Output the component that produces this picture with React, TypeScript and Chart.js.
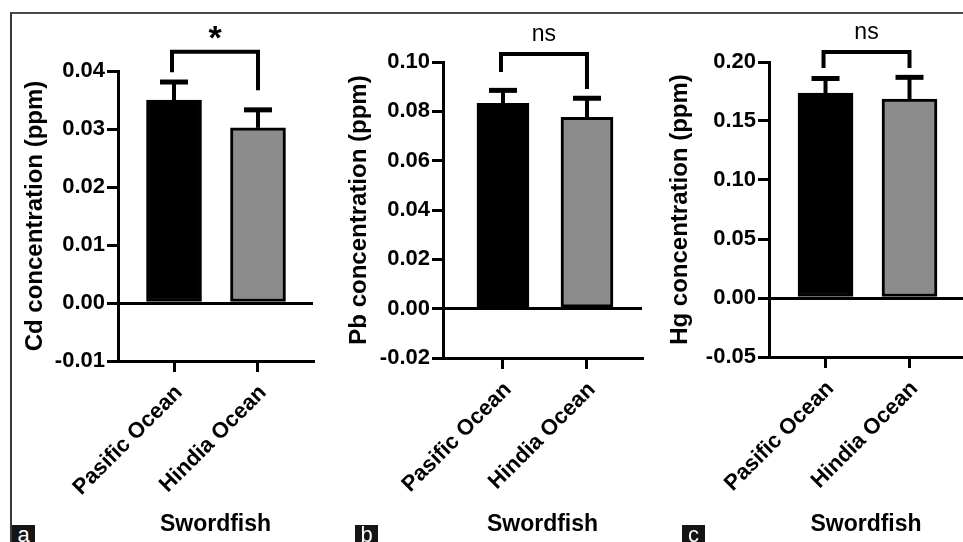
import React, { useEffect, useRef } from "react";
import { Chart, registerables } from "chart.js";

Chart.register(...registerables);

const FONT = "'Liberation Sans', Arial, sans-serif";

const categories = ["Pasific Ocean", "Hindia Ocean"];
const barColors = ["#000000", "#8c8c8c"];

const cdMeans = [0.035, 0.0302];
const cdErrors = [0.0031, 0.0031];
const pbMeans = [0.0832, 0.0776];
const pbErrors = [0.0053, 0.0077];
const hgMeans = [0.1737, 0.1686];
const hgErrors = [0.0123, 0.0184];

const cdTicks = [-0.01, 0, 0.01, 0.02, 0.03, 0.04];
const pbTicks = [-0.02, 0, 0.02, 0.04, 0.06, 0.08, 0.1];
const hgTicks = [-0.05, 0, 0.05, 0.1, 0.15, 0.2];

const yTitles = ["Cd concentration (ppm)", "Pb concentration (ppm)", "Hg concentration (ppm)"];
const xTitle = "Swordfish";
const sigLabels = ["*", "ns", "ns"];
// bracket: [top, left leg end, right leg end] in data units
const cdBracket = [0.0433, 0.0398, 0.0367];
const pbBracket = [0.1032, 0.0959, 0.0891];
const hgBracket = [0.2085, 0.1949, 0.1949];
const panelLetters = ["a", "b", "c"];

type Panel = {
  means: number[];
  errors: number[];
  ticks: number[];
  title: string;
  sig: string;
  bracket: number[];
  padLeft: number;
  padRight: number;
  padTop: number;
  axisX: number;
  bottom: number;
  xMin: number;
  xMax: number;
  barW: number;
};

const panels: Panel[] = [
  { means: cdMeans, errors: cdErrors, ticks: cdTicks, title: yTitles[0], sig: sigLabels[0], bracket: cdBracket,
    padLeft: 0, padRight: 650, padTop: 71, axisX: 118, bottom: 361, xMin: 0.333, xMax: 2.655, barW: 55 },
  { means: pbMeans, errors: pbErrors, ticks: pbTicks, title: yTitles[1], sig: sigLabels[1], bracket: pbBracket,
    padLeft: 324, padRight: 321, padTop: 62, axisX: 443, bottom: 358, xMin: 0.286, xMax: 2.655, barW: 52 },
  { means: hgMeans, errors: hgErrors, ticks: hgTicks, title: yTitles[2], sig: sigLabels[2], bracket: hgBracket,
    padLeft: 645, padRight: 0, padTop: 62, axisX: 769, bottom: 357, xMin: 0.327, xMax: 2.637, barW: 55 },
];

function makeOverlay(p: Panel) {
  return {
    id: "overlay",
    afterDatasetsDraw(chart: any) {
      const ctx = chart.ctx as CanvasRenderingContext2D;
      const xs = chart.scales.x;
      const ys = chart.scales.y;
      ctx.save();
      ctx.strokeStyle = "#000";
      ctx.lineCap = "butt";
      // error bars (upper only)
      p.means.forEach((m, i) => {
        const x = xs.getPixelForValue(i + 1);
        const yb = ys.getPixelForValue(m);
        const yt = ys.getPixelForValue(m + p.errors[i]);
        ctx.lineWidth = 4;
        ctx.beginPath();
        ctx.moveTo(x, yb);
        ctx.lineTo(x, yt);
        ctx.stroke();
        ctx.lineWidth = 5;
        ctx.beginPath();
        ctx.moveTo(x - 14, yt);
        ctx.lineTo(x + 14, yt);
        ctx.stroke();
      });
      // significance bracket
      const x1 = xs.getPixelForValue(1) - 2;
      const x2 = xs.getPixelForValue(2);
      const yTop = ys.getPixelForValue(p.bracket[0]);
      const yL = ys.getPixelForValue(p.bracket[1]);
      const yR = ys.getPixelForValue(p.bracket[2]);
      ctx.lineWidth = 4;
      ctx.lineJoin = "miter";
      ctx.beginPath();
      ctx.moveTo(x1, yL);
      ctx.lineTo(x1, yTop);
      ctx.lineTo(x2, yTop);
      ctx.lineTo(x2, yR);
      ctx.stroke();
      ctx.fillStyle = "#000";
      ctx.textAlign = "center";
      ctx.textBaseline = "alphabetic";
      const cx = (x1 + x2) / 2;
      if (p.sig === "*") {
        ctx.font = `bold 34px ${FONT}`;
        ctx.fillText(p.sig, cx, yTop - 3);
      } else {
        ctx.font = `23px ${FONT}`;
        ctx.fillText(p.sig, cx, yTop - 13);
      }
      ctx.restore();
    },
  };
}

function PanelChart({ p }: { p: Panel }) {
  const ref = useRef<HTMLCanvasElement | null>(null);
  useEffect(() => {
    if (!ref.current) return;
    const yWidth = p.axisX - p.padLeft;
    const xHeight = 542 - p.bottom;
    const chart = new Chart(ref.current, {
      type: "bar",
      data: {
        datasets: [
          {
            data: p.means.map((m, i) => ({ x: i + 1, y: m })),
            backgroundColor: barColors,
            borderColor: "#000",
            borderWidth: 3,
            borderSkipped: false,
            barThickness: p.barW,
          } as any,
        ],
      },
      options: {
        animation: false,
        responsive: false,
        devicePixelRatio: 1,
        layout: { padding: { left: p.padLeft, right: p.padRight, top: p.padTop, bottom: 0 } },
        plugins: { legend: { display: false }, tooltip: { enabled: false } },
        scales: {
          x: {
            type: "linear",
            offset: false,
            min: p.xMin,
            max: p.xMax,
            afterBuildTicks: (s: any) => {
              s.ticks = categories.map((_, i) => ({ value: i + 1 }));
            },
            afterFit: (s: any) => {
              s.height = xHeight;
            },
            ticks: {
              autoSkip: false,
              maxRotation: 45,
              minRotation: 45,
              padding: 8,
              labelOffset: 5,
              color: "#000",
              font: { family: FONT, size: 22, weight: "bold" },
              callback: (v: any) => categories[Math.round(Number(v)) - 1] ?? "",
            },
            grid: {
              display: true,
              offset: false,
              drawOnChartArea: false,
              drawTicks: true,
              tickLength: 11,
              tickColor: "#000",
              tickWidth: 3,
              color: "#000",
              lineWidth: 3,
            },
            border: { display: true, color: "#000", width: 3 },
            title: {
              display: true,
              text: xTitle,
              color: "#000",
              font: { family: FONT, size: 23, weight: "bold" },
              padding: { top: 0, bottom: 4 },
            },
          },
          y: {
            type: "linear",
            min: p.ticks[0],
            max: p.ticks[p.ticks.length - 1],
            afterBuildTicks: (s: any) => {
              s.ticks = p.ticks.map((v) => ({ value: v }));
            },
            afterFit: (s: any) => {
              s.width = yWidth;
            },
            ticks: {
              padding: 2,
              color: "#000",
              font: { family: FONT, size: 22, weight: "bold" },
              callback: (v: any) => Number(v).toFixed(2),
            },
            grid: {
              display: true,
              drawOnChartArea: true,
              drawTicks: true,
              tickLength: 11,
              tickColor: "#000",
              tickWidth: 3,
              lineWidth: 3,
              color: (c: any) => (c.tick && Math.abs(c.tick.value) < 1e-9 ? "#000" : "rgba(0,0,0,0)"),
            },
            border: { display: true, color: "#000", width: 3 },
            title: {
              display: true,
              text: p.title,
              color: "#000",
              font: { family: FONT, size: 24, weight: "bold" },
              padding: { top: 20.6, bottom: 0 },
            },
          },
        },
      },
      plugins: [makeOverlay(p)],
    });
    return () => chart.destroy();
  }, [p]);
  return (
    <canvas
      ref={ref}
      width={963}
      height={542}
      style={{ position: "absolute", left: 0, top: 0, width: 963, height: 542 }}
    />
  );
}

const letterLefts = [12, 355, 682];

export default function App() {
  return (
    <div
      style={{
        position: "fixed",
        left: 0,
        top: 0,
        width: 963,
        height: 542,
        background: "#fff",
        overflow: "hidden",
      }}
    >
      <div
        style={{
          position: "absolute",
          left: 10,
          top: 12,
          right: 0,
          bottom: 0,
          borderTop: "2px solid #4a4a4a",
          borderLeft: "2px solid #3a3a3a",
        }}
      />
      {panels.map((p, i) => (
        <PanelChart key={i} p={p} />
      ))}
      {panelLetters.map((l, i) => (
        <div
          key={l}
          style={{
            position: "absolute",
            left: letterLefts[i],
            top: 525,
            width: 23,
            height: 17,
            background: "#151515",
            color: "#fff",
            fontFamily: FONT,
            fontSize: 22,
            lineHeight: "19px",
            textAlign: "center",
            overflow: "hidden",
          }}
        >
          {l}
        </div>
      ))}
    </div>
  );
}
